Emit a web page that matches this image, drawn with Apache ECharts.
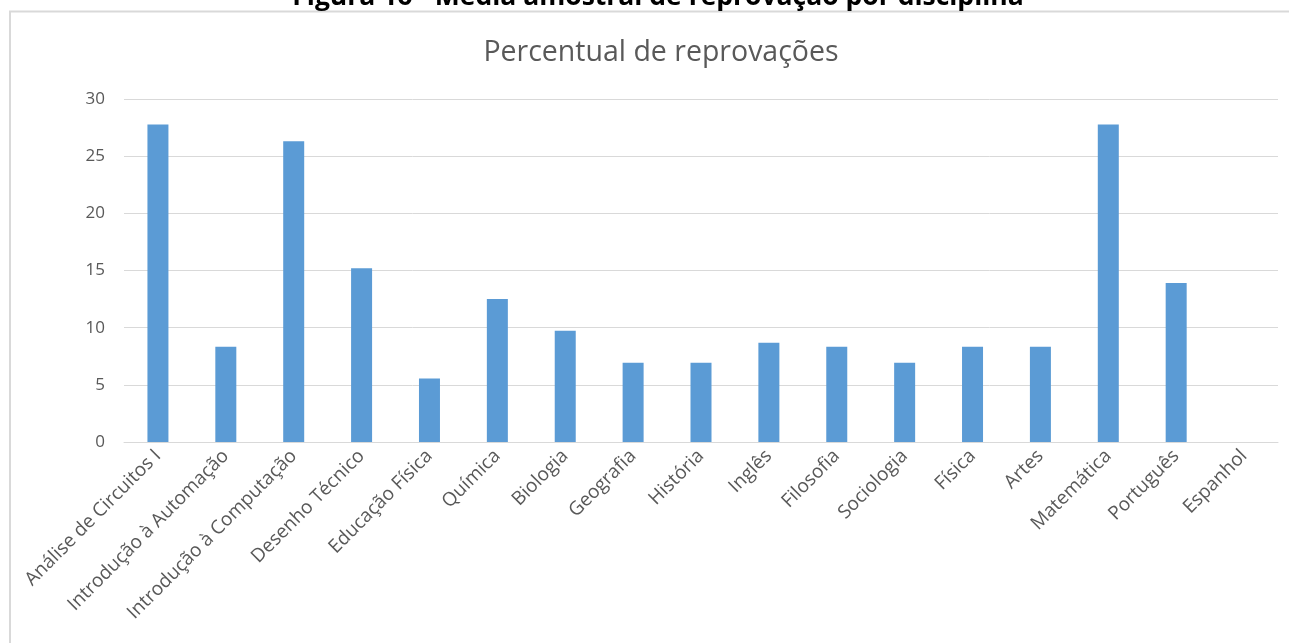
<!DOCTYPE html>
<html>
<head>
<meta charset="utf-8">
<script src="https://cdn.jsdelivr.net/npm/echarts@6/dist/echarts.min.js"></script>
<style>
  html, body { margin: 0; padding: 0; background: #fff; }
  #chart { width: 1289px; height: 643px; }
</style>
</head>
<body>
<div id="chart"></div>
<script>
// Disciplinas avaliadas
const disciplinas = [
  'Análise de Circuitos I', 'Introdução à Automação', 'Introdução à Computação',
  'Desenho Técnico', 'Educação Física', 'Química', 'Biologia', 'Geografia',
  'História', 'Inglês', 'Filosofia', 'Sociologia', 'Física', 'Artes',
  'Matemática', 'Português', 'Espanhol'
];
// Percentual de reprovações por disciplina
const reprovacoes = [
  27.78, 8.33, 26.3, 15.2, 5.56, 12.5, 9.72, 6.94,
  6.94, 8.68, 8.33, 6.94, 8.33, 8.33, 27.78, 13.9, 0
];
const legenda = 'Figura 16 - Média amostral de reprovação por disciplina';
const titulo = 'Percentual de reprovações';

const chart = echarts.init(document.getElementById('chart'), null, { renderer: 'canvas' });
const textColor = '#595959';
const font = '"Open Sans", "Liberation Sans", sans-serif';

chart.setOption({
  animation: false,
  backgroundColor: '#ffffff',
  title: {
    text: titulo,
    left: 656,
    textAlign: 'center',
    top: 33,
    textStyle: { fontFamily: font, fontSize: 28.5, fontWeight: 'normal', color: textColor }
  },
  graphic: [
    {
      type: 'rect',
      shape: { x: 10, y: 11.5, width: 1400, height: 800 },
      style: { fill: 'none', stroke: '#d9d9d9', lineWidth: 2 },
      silent: true
    },
    {
      type: 'text',
      x: 658,
      y: 11,
      style: {
        text: legenda,
        fontFamily: font,
        fontSize: 26.5,
        fontWeight: 'bold',
        fill: '#000000',
        align: 'center',
        verticalAlign: 'bottom'
      },
      silent: true
    }
  ],
  grid: { left: 124, right: 11, top: 99, bottom: 201 },
  xAxis: {
    type: 'category',
    data: disciplinas,
    axisTick: { show: false },
    axisLine: { lineStyle: { color: '#d9d9d9', width: 1 } },
    axisLabel: {
      interval: 0,
      rotate: 45,
      margin: 11,
      color: textColor,
      fontFamily: font,
      fontSize: 19
    }
  },
  yAxis: {
    type: 'value',
    min: 0,
    max: 30,
    interval: 5,
    axisLine: { show: false },
    axisTick: { show: false },
    splitLine: { lineStyle: { color: '#d9d9d9', width: 1 } },
    axisLabel: { color: textColor, fontFamily: font, fontSize: 17, margin: 19 }
  },
  series: [{
    type: 'bar',
    data: reprovacoes,
    barWidth: 21,
    itemStyle: { color: '#5b9bd5' }
  }]
});
</script>
</body>
</html>
